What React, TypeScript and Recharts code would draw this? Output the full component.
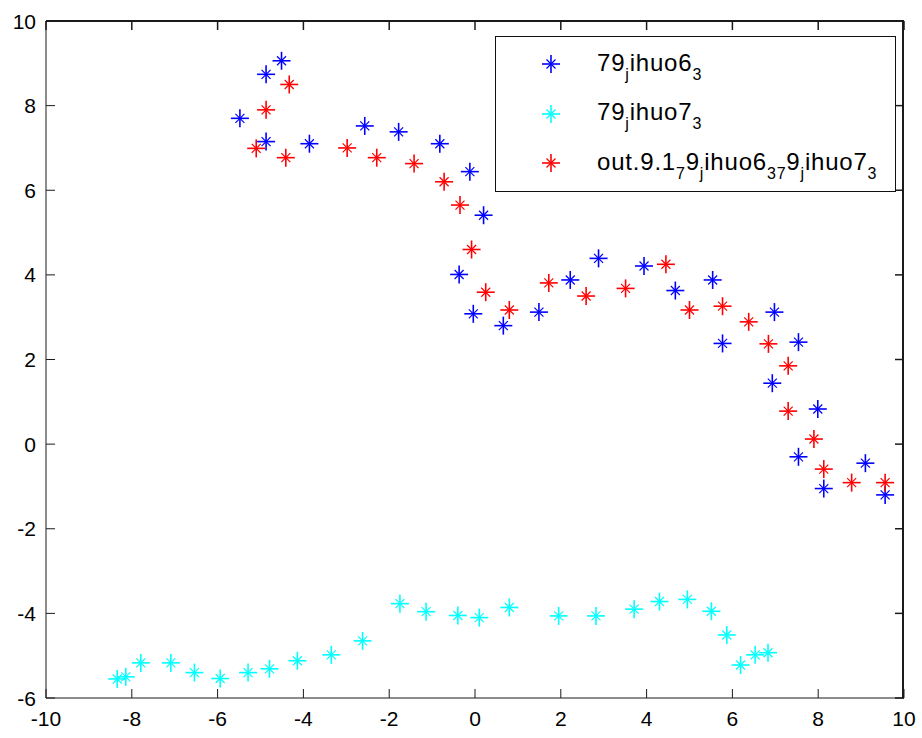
import React from 'react';
import { ScatterChart, Scatter, XAxis, YAxis } from 'recharts';

// 79_jihuo6_3 (blue)
const blueX = [-5.48, -4.87, -4.51, -4.87, -3.86, -2.57, -1.78, -0.82, -0.12, 0.2, -0.37, -0.04, 0.66, 1.49, 2.22, 2.88, 3.94, 4.67, 5.54, 5.77, 6.98, 6.93, 7.54, 7.99, 7.54, 8.13, 9.1, 9.56];
const blueY = [7.7, 8.74, 9.06, 7.15, 7.1, 7.52, 7.38, 7.1, 6.44, 5.41, 4.01, 3.08, 2.8, 3.12, 3.88, 4.39, 4.21, 3.63, 3.88, 2.38, 3.12, 1.44, 2.41, 0.83, -0.3, -1.05, -0.45, -1.2];

// 79_jihuo7_3 (cyan)
const cyanX = [-8.34, -8.14, -7.79, -7.09, -6.54, -5.94, -5.29, -4.79, -4.14, -3.35, -2.62, -1.75, -1.14, -0.4, 0.1, 0.8, 1.95, 2.82, 3.71, 4.3, 4.95, 5.51, 5.87, 6.19, 6.53, 6.83];
const cyanY = [-5.55, -5.5, -5.17, -5.17, -5.4, -5.54, -5.4, -5.31, -5.12, -4.98, -4.65, -3.77, -3.96, -4.05, -4.1, -3.86, -4.06, -4.06, -3.9, -3.72, -3.67, -3.95, -4.51, -5.22, -4.98, -4.93];

// out.9.1_79_jihuo6_37_9_jihuo7_3 (red)
const redX = [-5.1, -4.87, -4.33, -4.41, -2.98, -2.29, -1.42, -0.72, -0.35, -0.08, 0.25, 0.8, 1.72, 2.59, 3.51, 4.45, 5.0, 5.77, 6.38, 6.84, 7.3, 7.3, 7.9, 8.13, 8.78, 9.56];
const redY = [6.99, 7.9, 8.5, 6.77, 7.0, 6.77, 6.63, 6.2, 5.65, 4.6, 3.59, 3.17, 3.81, 3.5, 3.68, 4.25, 3.17, 3.26, 2.89, 2.37, 1.85, 0.78, 0.12, -0.59, -0.91, -0.91];

const xTicks = [-10, -8, -6, -4, -2, 0, 2, 4, 6, 8, 10];
const yTicks = [-6, -4, -2, 0, 2, 4, 6, 8, 10];

const toPoints = (xs: number[], ys: number[]) => xs.map((x, i) => ({ x, y: ys[i] }));

const FONT = '"Liberation Sans", Arial, sans-serif';
const AXIS = '#1a1a1a';
const TICK_LEN = 9;

// plot frame (matches chart margins + axis sizes below)
const W = 922;
const H = 738;
const M = { top: 21, right: 18, bottom: 10, left: 6 };
const X_AXIS_H = 30;
const Y_AXIS_W = 40;
const PL = M.left + Y_AXIS_W;
const PR = W - M.right;
const PT = M.top;
const PB = H - M.bottom - X_AXIS_H;

const Star = ({ cx, cy, color }: any) => (
  <g stroke={color} strokeWidth={1.6} strokeLinecap="butt">
    <line x1={cx - 9} y1={cy} x2={cx + 9} y2={cy} />
    <line x1={cx} y1={cy - 9} x2={cx} y2={cy + 9} />
    <line x1={cx - 4.5} y1={cy - 4.5} x2={cx + 4.5} y2={cy + 4.5} strokeWidth={1.2} />
    <line x1={cx - 4.5} y1={cy + 4.5} x2={cx + 4.5} y2={cy - 4.5} strokeWidth={1.2} />
  </g>
);

const starShape = (color: string) => (props: any) => <Star cx={props.cx} cy={props.cy} color={color} />;

const BottomTick = ({ x, y, payload }: any) => (
  <g>
    <line x1={x} y1={y} x2={x} y2={y - TICK_LEN} stroke={AXIS} />
    <text x={x} y={y + 28} textAnchor="middle" fontSize={21} fontFamily={FONT} fill="#000">
      {payload.value}
    </text>
  </g>
);

const LeftTick = ({ x, y, payload }: any) => (
  <g>
    <line x1={x} y1={y} x2={x + TICK_LEN} y2={y} stroke={AXIS} />
    <text x={x - 10} y={y + 7.5} textAnchor="end" fontSize={21} fontFamily={FONT} fill="#000">
      {payload.value}
    </text>
  </g>
);

// top/right edges of the MATLAB-style box, drawn as plain elements over the chart
const BoxEdges = () => {
  const sx = (v: number) => PL + ((v - xTicks[0]) / (xTicks[xTicks.length - 1] - xTicks[0])) * (PR - PL);
  const sy = (v: number) => PB - ((v - yTicks[0]) / (yTicks[yTicks.length - 1] - yTicks[0])) * (PB - PT);
  return (
    <>
      <div
        style={{
          position: 'absolute',
          left: PL,
          top: PT - 1,
          width: PR - PL,
          height: PB - PT + 1,
          borderTop: `2px solid ${AXIS}`,
          borderRight: `2px solid ${AXIS}`,
          boxSizing: 'border-box',
          pointerEvents: 'none',
          zIndex: 5,
        }}
      />
      <svg width={W} height={H} style={{ position: 'absolute', left: 0, top: 0, pointerEvents: 'none', zIndex: 5 }}>
        <g stroke={AXIS} strokeWidth={1.5}>
          {xTicks.map((t) => (
            <line key={`t${t}`} x1={sx(t)} y1={PT} x2={sx(t)} y2={PT + TICK_LEN} />
          ))}
          {yTicks.map((t) => (
            <line key={`r${t}`} x1={PR} y1={sy(t)} x2={PR - TICK_LEN} y2={sy(t)} />
          ))}
        </g>
      </svg>
    </>
  );
};

const Sub = ({ children }: any) => (
  <span style={{ fontSize: 16, position: 'relative', top: 9 }}>{children}</span>
);

const legendRows = [
  { color: '#0000ff', label: <>79<Sub>j</Sub>ihuo6<Sub>3</Sub></> },
  { color: '#00ffff', label: <>79<Sub>j</Sub>ihuo7<Sub>3</Sub></> },
  {
    color: '#ff0000',
    label: <>out.9.1<Sub>7</Sub>9<Sub>j</Sub>ihuo6<Sub>37</Sub>9<Sub>j</Sub>ihuo7<Sub>3</Sub></>,
  },
];

export default function App() {
  return (
    <div style={{ position: 'absolute', left: 0, top: 0, width: W, height: H, background: '#fff' }}>
      <ScatterChart width={W} height={H} margin={M}>
        <XAxis
          dataKey="x"
          type="number"
          domain={[-10, 10]}
          ticks={xTicks}
          allowDataOverflow
          height={X_AXIS_H}
          tickSize={0}
          tickMargin={0}
          tickLine={false}
          stroke={AXIS}
          tick={<BottomTick />}
        />
        <YAxis
          dataKey="y"
          type="number"
          domain={[-6, 10]}
          ticks={yTicks}
          allowDataOverflow
          width={Y_AXIS_W}
          tickSize={0}
          tickMargin={0}
          tickLine={false}
          stroke={AXIS}
          tick={<LeftTick />}
        />
        <Scatter data={toPoints(blueX, blueY)} shape={starShape('#0000ff')} isAnimationActive={false} />
        <Scatter data={toPoints(cyanX, cyanY)} shape={starShape('#00ffff')} isAnimationActive={false} />
        <Scatter data={toPoints(redX, redY)} shape={starShape('#ff0000')} isAnimationActive={false} />
      </ScatterChart>

      <BoxEdges />

      <div
        style={{
          position: 'absolute',
          left: 495,
          top: 36,
          width: 399,
          height: 154,
          border: '1.5px solid #111',
          background: '#fff',
          fontFamily: FONT,
          fontSize: 24,
          letterSpacing: 0.8,
          color: '#000',
          zIndex: 6,
        }}
      >
        {legendRows.map((row, i) => (
          <div key={i} style={{ position: 'absolute', left: 0, top: 10 + i * 49.5, height: 34, display: 'flex', alignItems: 'center', whiteSpace: 'nowrap' }}>
            <svg width={90} height={34} style={{ flex: 'none' }}>
              <Star cx={55} cy={17} color={row.color} />
            </svg>
            <span style={{ marginLeft: 11, lineHeight: '34px' }}>{row.label}</span>
          </div>
        ))}
      </div>
    </div>
  );
}
